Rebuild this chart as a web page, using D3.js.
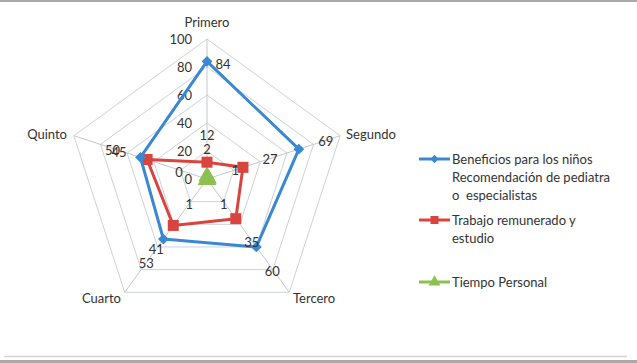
<!DOCTYPE html>
<html>
<head>
<meta charset="utf-8">
<script src="https://cdn.jsdelivr.net/npm/d3@7"></script>
<style>
  body { margin: 0; background: #fff; }
  svg { display: block; font-family: Lato, "Open Sans", sans-serif; }
</style>
</head>
<body>
<div id="chart"></div>
<script>
const axes = ['Primero', 'Segundo', 'Tercero', 'Cuarto', 'Quinto'];
const beneficios = [84, 69, 60, 53, 50];
const trabajo = [12, 27, 35, 41, 45];
const tiempo = [2, 1, 1, 1, 0];
const ticks = [0, 20, 40, 60, 80, 100];
const seriesNames = [
  ['Beneficios para los niños', 'Recomendación de pediatra', 'o  especialistas'],
  ['Trabajo remunerado y', 'estudio'],
  ['Tiempo Personal']
];

const width = 637;
const height = 363;
const cx = 207;
const cy = 179;
const R = 140;

const svg = d3.select('#chart')
  .append('svg')
  .attr('width', width)
  .attr('height', height);

// frame lines
svg.append('rect').attr('x', 0).attr('y', 0).attr('width', width).attr('height', 2).attr('fill', '#a9a9a9');
svg.append('line').attr('x1', 4).attr('x2', 627).attr('y1', 356.5).attr('y2', 356.5)
  .attr('stroke', '#d4d4d4').attr('stroke-width', 1.5);
svg.append('rect').attr('x', 0).attr('y', 360).attr('width', width).attr('height', 3).attr('fill', '#a9a9a9');

const r = d3.scaleLinear().domain([0, 100]).range([0, R]);
const angle = d3.scaleLinear().domain([0, axes.length]).range([0, 2 * Math.PI]);
const pt = (i, v) => [cx + r(v) * Math.sin(angle(i)), cy - r(v) * Math.cos(angle(i))];

const g = svg.append('g');

// grid rings
ticks.filter(t => t > 0).forEach(t => {
  g.append('path')
    .attr('d', d3.line()(axes.map((a, i) => pt(i, t))) + 'Z')
    .attr('fill', 'none')
    .attr('stroke', '#ccd2d6')
    .attr('stroke-width', 1);
});

// spokes
axes.forEach((a, i) => {
  const [x, y] = pt(i, 100);
  g.append('line')
    .attr('x1', cx).attr('y1', cy).attr('x2', x).attr('y2', y)
    .attr('stroke', '#c4c8cc').attr('stroke-width', 1);
});

// tick labels
g.selectAll('.tick')
  .data(ticks)
  .join('text')
  .attr('x', cx - 15)
  .attr('y', d => cy - r(d))
  .attr('dy', '0.35em')
  .attr('text-anchor', 'end')
  .attr('font-size', 13)
  .attr('fill', '#333')
  .text(d => d);

// category labels
const catPos = [[0, -157, 'middle'], [139, -45, 'start'], [86, 119, 'start'], [-86, 119, 'end'], [-140, -45, 'end']];
g.selectAll('.cat')
  .data(axes)
  .join('text')
  .attr('x', (d, i) => cx + catPos[i][0])
  .attr('y', (d, i) => cy + catPos[i][1])
  .attr('dy', '0.35em')
  .attr('text-anchor', (d, i) => catPos[i][2])
  .attr('font-size', 13)
  .attr('fill', '#333')
  .text(d => d);

const colors = ['#3b88d2', '#d9443f', '#8cc152'];
const series = [beneficios, trabajo, tiempo];

// data label offsets per axis
const labelOff = [[0, -27], [27, -8], [16, 24], [-17, 24], [-28, -7]];

const marker = (sel, k, size) => {
  if (k === 0) {
    sel.append('path').attr('d', d3.symbol(d3.symbolDiamond2, size * size * 0.9)()).attr('fill', colors[k]);
  } else if (k === 1) {
    sel.append('rect').attr('x', -size / 2).attr('y', -size / 2).attr('width', size).attr('height', size).attr('fill', colors[k]);
  } else {
    sel.append('path').attr('d', d3.symbol(d3.symbolTriangle, size * size * 0.75)()).attr('fill', colors[k]);
  }
};

// draw green first (under), then red, blue on top
[2, 1, 0].forEach(k => {
  const vals = series[k];
  const pts = vals.map((v, i) => pt(i, v));
  g.append('path')
    .attr('d', d3.line()(pts) + 'Z')
    .attr('fill', 'none')
    .attr('stroke', colors[k])
    .attr('stroke-width', 3)
    .attr('stroke-linejoin', 'round');
  pts.forEach(p => {
    const m = g.append('g').attr('transform', `translate(${p[0]},${p[1]})`);
    marker(m, k, k === 0 ? 9 : k === 1 ? 11 : 13);
  });
});

// data labels
[2, 1, 0].forEach(k => {
  series[k].forEach((v, i) => {
    const p = pt(i, v);
    let off = labelOff[i];
    if (k === 0 && i === 0) off = [16, 3];
    g.append('text')
      .attr('x', p[0] + off[0])
      .attr('y', p[1] + off[1])
      .attr('dy', '0.35em')
      .attr('text-anchor', 'middle')
      .attr('font-size', 13)
      .attr('fill', '#333')
      .text(v);
  });
});

// legend
const legendY = [159, 220, 282];
const leg = svg.append('g');
seriesNames.forEach((lines, k) => {
  const y = legendY[k];
  leg.append('line')
    .attr('x1', 419).attr('x2', 450).attr('y1', y).attr('y2', y)
    .attr('stroke', colors[k]).attr('stroke-width', 3);
  const m = leg.append('g').attr('transform', `translate(434.5,${y})`);
  marker(m, k, k === 0 ? 7 : k === 1 ? 8 : 9);
  lines.forEach((t, j) => {
    leg.append('text')
      .attr('x', 452)
      .attr('y', y + j * 18)
      .attr('dy', '0.35em')
      .attr('font-size', 13)
      .attr('fill', '#333')
      .style('white-space', 'pre')
      .text(t);
  });
});
</script>
</body>
</html>
